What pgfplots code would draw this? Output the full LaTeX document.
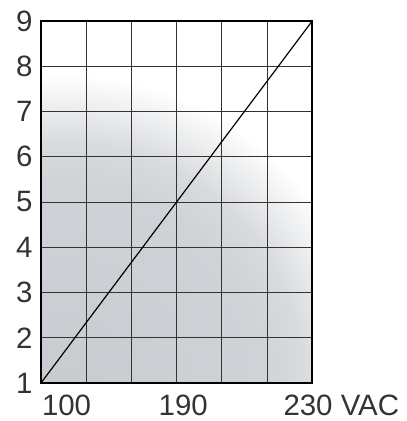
\documentclass[border=0pt]{standalone}
\usepackage{pgfplots}
\pgfplotsset{compat=1.18}
\usepackage{fontspec}
\setmainfont{Liberation Sans}
\definecolor{gbase}{HTML}{C8CBCF}
\definecolor{gmid}{HTML}{CFD2D6}
\pgfdeclareradialshading{grayfade}{\pgfpoint{0bp}{0bp}}{%
  color(0bp)=(gbase); color(16bp)=(gmid); color(19.5bp)=(gmid!80!white); color(25bp)=(white); color(50bp)=(white)}
\begin{document}
\begin{tikzpicture}
\begin{axis}[
  name=ax,
  set layers,
  scale only axis,
  width=272pt, height=363pt,
  xmin=0, xmax=6, ymin=1, ymax=9,
  xtick={0,...,6}, ytick={1,...,9},
  xticklabels={},
  grid=major,
  major grid style={black!80, line width=0.7pt},
  major tick length=0pt,
  axis line style={black, line width=1.6pt},
  clip=false,
  /pgf/number format/assume math mode=true,
  yticklabel style={font=\fontsize{29.5}{34}\selectfont, text=black!80, xshift=-5pt},
]
\begin{pgfonlayer}{axis background}
\begin{scope}
\clip (rel axis cs:0,0) rectangle (rel axis cs:1,1);
\shade[shading=grayfade] (rel axis cs:0.08,0) circle[radius=310pt];
\end{scope}
\end{pgfonlayer}
\addplot[black, line width=1.2pt] coordinates {(0,1) (6,9)};
\node[anchor=base west, inner sep=0pt, yshift=-32pt, font=\fontsize{29.5}{34}\selectfont, text=black!80] at (axis cs:0.02,1) {100};
\node[anchor=base west, inner sep=0pt, yshift=-32pt, font=\fontsize{29.5}{34}\selectfont, text=black!80] at (axis cs:2.6,1) {190};
\node[anchor=base west, inner sep=0pt, yshift=-32pt, font=\fontsize{29.5}{34}\selectfont, text=black!80] at (axis cs:5.36,1) {230 VAC};
\end{axis}
\path (ax.south west) ++(-41pt,-38pt) coordinate (bl);
\path (ax.north east) ++(94pt,21pt) coordinate (tr);
\useasboundingbox (bl) rectangle (tr);
\end{tikzpicture}
\end{document}
